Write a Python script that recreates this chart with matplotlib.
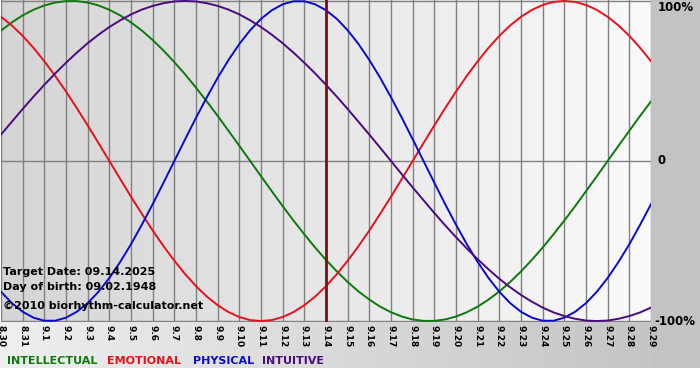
import numpy as np
import matplotlib
matplotlib.use("Agg")
import matplotlib.pyplot as plt
from matplotlib.colors import LinearSegmentedColormap

# days shown on the x axis (8.30 .. 9.29)
day_labels = ["8.30", "8.31"] + ["9.%d" % d for d in range(1, 30)]
target_label = "9.14"

# cycle values every half day (-1 .. 1), 8.30 .. 9.29
physical = [-0.817, -0.888, -0.942, -0.979, -0.998, -0.998, -0.979, -0.942, -0.888, -0.817,
            -0.731, -0.631, -0.520, -0.398, -0.270, -0.136, 0.000, 0.136, 0.270, 0.398,
            0.520, 0.631, 0.731, 0.817, 0.888, 0.942, 0.979, 0.998, 0.998, 0.979,
            0.942, 0.888, 0.817, 0.731, 0.631, 0.520, 0.398, 0.270, 0.136, 0.000,
            -0.136, -0.270, -0.398, -0.520, -0.631, -0.731, -0.817, -0.888, -0.942, -0.979,
            -0.998, -0.998, -0.979, -0.942, -0.888, -0.817, -0.731, -0.631, -0.520, -0.398,
            -0.270]
emotional = [0.901, 0.847, 0.782, 0.707, 0.623, 0.532, 0.434, 0.330, 0.223, 0.112,
             0.000, -0.112, -0.223, -0.330, -0.434, -0.532, -0.623, -0.707, -0.782, -0.847,
             -0.901, -0.944, -0.975, -0.994, -1.000, -0.994, -0.975, -0.944, -0.901, -0.847,
             -0.782, -0.707, -0.623, -0.532, -0.434, -0.330, -0.223, -0.112, 0.000, 0.112,
             0.223, 0.330, 0.434, 0.532, 0.623, 0.707, 0.782, 0.847, 0.901, 0.944,
             0.975, 0.994, 1.000, 0.994, 0.975, 0.944, 0.901, 0.847, 0.782, 0.707,
             0.623]
intellectual = [0.815, 0.866, 0.910, 0.945, 0.972, 0.990, 0.999, 0.999, 0.990, 0.972,
                0.945, 0.910, 0.866, 0.815, 0.756, 0.690, 0.618, 0.541, 0.458, 0.372,
                0.282, 0.189, 0.095, 0.000, -0.095, -0.189, -0.282, -0.372, -0.458, -0.541,
                -0.618, -0.690, -0.756, -0.815, -0.866, -0.910, -0.945, -0.972, -0.990, -0.999,
                -0.999, -0.990, -0.972, -0.945, -0.910, -0.866, -0.815, -0.756, -0.690, -0.618,
                -0.541, -0.458, -0.372, -0.282, -0.189, -0.095, 0.000, 0.095, 0.189, 0.282,
                0.372]
intuitive = [0.165, 0.245, 0.325, 0.402, 0.476, 0.547, 0.614, 0.677, 0.736, 0.789,
             0.837, 0.879, 0.916, 0.946, 0.969, 0.986, 0.997, 1.000, 0.997, 0.986,
             0.969, 0.946, 0.916, 0.879, 0.837, 0.789, 0.736, 0.677, 0.614, 0.547,
             0.476, 0.402, 0.325, 0.245, 0.165, 0.083, 0.000, -0.083, -0.165, -0.245,
             -0.325, -0.402, -0.476, -0.547, -0.614, -0.677, -0.736, -0.789, -0.837, -0.879,
             -0.916, -0.946, -0.969, -0.986, -0.997, -1.000, -0.997, -0.986, -0.969, -0.946,
             -0.916]

legend_names = ["INTELLECTUAL", "EMOTIONAL", "PHYSICAL", "INTUITIVE"]
info_lines = ["Target Date: 09.14.2025", "Day of birth: 09.02.1948",
              "\u00a92010 biorhythm-calculator.net"]

W, H = 700, 380
col_int = "#0b7a0b"
col_emo = "#e8101a"
col_phy = "#0a0acc"
col_itu = "#4a0a80"

fig = plt.figure(figsize=(W / 100, H / 100), dpi=100)

# background layer, pixel coordinates
bg = fig.add_axes([0, 0, 1, 1], zorder=0)
bg.set_xlim(0, W)
bg.set_ylim(H, 0)
bg.axis("off")
grad = np.linspace(0, 1, 256).reshape(1, -1)
band = LinearSegmentedColormap.from_list("band", ["#efefef", "#c2c2c2"])
bg.imshow(grad, cmap=band, extent=(0, W, 368, 321), aspect="auto")
bg.fill_between([651, W], 0, 368, color="#c3c3c3", lw=0)

# plot area
x0, x1, y0, y1 = 1, 651, 0, 322
ax = fig.add_axes([x0 / W, 1 - y1 / H, (x1 - x0) / W, (y1 - y0) / H], zorder=1)
days = np.arange(len(day_labels))
half_days = np.arange(len(physical)) / 2
ax.set_xlim(0, days[-1])
ax.set_ylim(-1.006, 1.006)

plot_bg = LinearSegmentedColormap.from_list("plotbg", ["#d5d5d5", "#fafafa"])
ax.imshow(grad, cmap=plot_bg, extent=(0, days[-1], -1.006, 1.006),
          aspect="auto", zorder=0)

for d in days:
    ax.axvline(d, color="#808080", lw=1, zorder=1)
for yy in [1, 0, -1]:
    ax.axhline(yy, color="#808080", lw=1, zorder=1)
ax.axvline(day_labels.index(target_label), color="#7a1010", lw=2, zorder=4)

ax.plot(half_days, intellectual, color=col_int, lw=1.4, zorder=3)
ax.plot(half_days, emotional, color=col_emo, lw=1.4, zorder=3)
ax.plot(half_days, physical, color=col_phy, lw=1.4, zorder=3)
ax.plot(half_days, intuitive, color=col_itu, lw=1.4, zorder=3)

for s in ax.spines.values():
    s.set_visible(False)
ax.set_xticks(days)
ax.set_xticklabels(day_labels, rotation=-90, fontsize=6.5, fontweight="bold",
                   va="top", ha="center")
ax.tick_params(axis="x", length=0, pad=2)
ax.set_yticks([])

# right side scale labels
for yy, lab in [(0.96, "100%"), (0, "0"), (-1, "-100%")]:
    xoff = 0.15 if lab == "-100%" else 0.3
    ax.text(days[-1] + xoff, yy, lab, fontsize=8.5, fontweight="bold",
            va="center", ha="left", clip_on=False, zorder=5)

# info text, drawn over the curves
for yp, txt in zip([272, 287, 306], info_lines):
    ax.text(3 / W, 1 - yp / H, txt, transform=fig.transFigure, fontsize=8,
            fontweight="bold", va="center", ha="left", zorder=10)

# legend row
for xp, name, c in zip([7, 107, 193, 262], legend_names,
                       [col_int, col_emo, col_phy, col_itu]):
    fig.text(xp / W, 1 - 361 / H, name, fontsize=8, fontweight="bold",
             color=c, va="center", ha="left")

fig.savefig("out.png", dpi=100)
